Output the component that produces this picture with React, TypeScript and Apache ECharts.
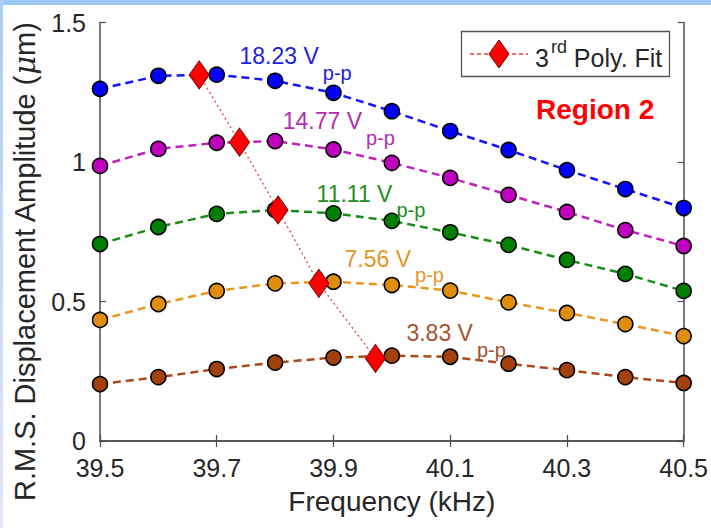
import React, { useEffect, useRef } from "react";
import * as echarts from "echarts";

// Drive frequency (kHz)
const freq = [39.5, 39.6, 39.7, 39.8, 39.9, 40.0, 40.1, 40.2, 40.3, 40.4, 40.5];

// RMS displacement amplitude (um) for each drive voltage
const amp1823 = [1.262, 1.309, 1.313, 1.291, 1.248, 1.182, 1.111, 1.043, 0.971, 0.903, 0.835];
const amp1477 = [0.986, 1.047, 1.069, 1.075, 1.045, 0.997, 0.943, 0.882, 0.821, 0.756, 0.699];
const amp1111 = [0.706, 0.767, 0.814, 0.828, 0.816, 0.789, 0.748, 0.703, 0.649, 0.599, 0.538];
const amp756 = [0.434, 0.491, 0.538, 0.565, 0.571, 0.559, 0.539, 0.497, 0.459, 0.419, 0.376];
const amp383 = [0.204, 0.229, 0.258, 0.281, 0.299, 0.306, 0.302, 0.277, 0.254, 0.229, 0.208];

// Peaks of the 3rd-order polynomial fits
const fitFreq = [39.67, 39.739, 39.805, 39.875, 39.972];
const fitAmp = [1.312, 1.071, 0.828, 0.565, 0.296];

// Drive voltage labels and their anchor points (freq, amp) at the label's left/middle
const voltLabels = ["18.23 V", "14.77 V", "11.11 V", "7.56 V", "3.83 V"];
const labelFreq = [39.739, 39.813, 39.871, 39.919, 40.025];
const labelAmp = [1.384, 1.151, 0.892, 0.659, 0.391];

const xTicks = [39.5, 39.7, 39.9, 40.1, 40.3, 40.5];

const markerColors = ["#0000ff", "#bf00bf", "#008000", "#e08c0c", "#a3410c"];
const lineColors = ["#1414ff", "#c020c0", "#1a8c1a", "#e8961e", "#a84a1a"];
const labelColors = ["#2020e0", "#b22db2", "#238c23", "#e59628", "#a5522e"];

const FONT = "'Liberation Sans', Arial, Helvetica, sans-serif";
const AXIS = "#4d4d4d";

export default function App() {
  const ref = useRef<HTMLDivElement>(null);

  useEffect(() => {
    if (!ref.current) return;
    const chart = echarts.init(ref.current, null, { renderer: "svg" });

    const sets = [amp1823, amp1477, amp1111, amp756, amp383];
    const dataSeries = sets.map((a, i) => ({
      type: "line",
      name: voltLabels[i],
      data: freq.map((f, k) => [f, a[k]]),
      symbol: "circle",
      symbolSize: 15,
      itemStyle: { color: markerColors[i], borderColor: "#000", borderWidth: 1.6 },
      lineStyle: { color: lineColors[i], width: 2.5, type: [8, 5] },
      z: 3,
    }));

    const hiddenAxis = {
      show: true,
      axisLabel: { show: false },
      splitLine: { show: false },
      axisLine: { show: true, lineStyle: { color: AXIS, width: 1.5 } },
    };

    chart.setOption({
      animation: false,
      backgroundColor: "#ffffff",
      grid: { left: 100, right: 26, top: 22.5, bottom: 87, containLabel: false },
      xAxis: [
        {
          type: "value",
          min: 39.5,
          max: 40.5,
          position: "bottom",
          axisLine: { show: true, onZero: false, lineStyle: { color: AXIS, width: 1.5 } },
          axisTick: { show: true, inside: true, length: 6, customValues: xTicks, lineStyle: { color: AXIS, width: 1.2 } },
          axisLabel: {
            customValues: xTicks,
            color: "#262626",
            fontSize: 25,
            fontFamily: FONT,
            margin: 14,
          },
          splitLine: { show: false },
          name: "Frequency (kHz)",
          nameLocation: "middle",
          nameGap: 46,
          nameTextStyle: { color: "#262626", fontSize: 28, fontFamily: FONT },
        },
        {
          ...hiddenAxis,
          type: "value",
          min: 39.5,
          max: 40.5,
          position: "top",
          axisTick: { show: true, inside: true, length: 6, customValues: xTicks, lineStyle: { color: AXIS, width: 1.2 } },
        },
      ],
      yAxis: [
        {
          type: "value",
          min: 0,
          max: 1.5,
          interval: 0.5,
          position: "left",
          axisLine: { show: true, onZero: false, lineStyle: { color: AXIS, width: 1.5 } },
          axisTick: { show: true, inside: true, length: 6, lineStyle: { color: AXIS, width: 1.2 } },
          axisLabel: { color: "#262626", fontSize: 25, fontFamily: FONT, margin: 14 },
          splitLine: { show: false },
        },
        {
          ...hiddenAxis,
          type: "value",
          min: 0,
          max: 1.5,
          interval: 0.5,
          position: "right",
          axisTick: { show: true, inside: true, length: 6, lineStyle: { color: AXIS, width: 1.2 } },
        },
      ],
      series: [
        ...dataSeries,
        {
          type: "line",
          name: "3rd Poly. Fit",
          data: fitFreq.map((f, k) => [f, fitAmp[k]]),
          symbol: "diamond",
          symbolSize: [20, 28],
          itemStyle: { color: "#ff0000", borderColor: "#7a0000", borderWidth: 1 },
          lineStyle: { color: "#f03c3c", width: 1.3, type: [2, 3] },
          z: 4,
        },
      ],
    });

    // Voltage annotations placed in data coordinates, with a p-p subscript
    const labelGraphics = voltLabels.map((t, i) => {
      const p = chart.convertToPixel({ gridIndex: 0 }, [labelFreq[i], labelAmp[i]]) as number[];
      return {
        type: "text",
        x: p[0],
        y: p[1] - 10,
        z: 10,
        style: {
          text: `{v|${t}}{s|p-p}`,
          textVerticalAlign: "top",
          textAlign: "left",
          fontFamily: FONT,
          rich: {
            v: { fontSize: 23, lineHeight: 25, verticalAlign: "top", fill: labelColors[i], fontFamily: FONT },
            s: {
              fontSize: 20,
              lineHeight: 21,
              verticalAlign: "top",
              padding: [18, 0, 0, 4],
              fill: labelColors[i],
              fontFamily: FONT,
            },
          },
        },
      };
    });

    chart.setOption({
      graphic: [
        { type: "rect", shape: { x: 0, y: 0, width: 711, height: 5 }, style: { fill: "#9cc9f6" }, z: 20 },
        {
          type: "rect",
          shape: { x: 0, y: 0, width: 3, height: 528 },
          style: {
            fill: new echarts.graphic.LinearGradient(0, 0, 0, 1, [
              { offset: 0, color: "#a9cef6" },
              { offset: 1, color: "#e4e5fa" },
            ]),
          },
          z: 20,
        },
        // Y-axis title
        {
          type: "text",
          x: 25,
          y: 262,
          rotation: Math.PI / 2,
          style: {
            text: "{t|R.M.S. Displacement Amplitude (}{i|μ}{t|m)}",
            textAlign: "center",
            textVerticalAlign: "middle",
            rich: {
              t: { fontSize: 29, fill: "#262626", fontFamily: FONT },
              i: { fontSize: 29, fill: "#262626", fontFamily: "'DejaVu Serif', serif", fontStyle: "italic" },
            },
          },
        },
        // Legend box
        {
          type: "rect",
          shape: { x: 461.5, y: 31.5, width: 208, height: 45 },
          style: { fill: "#ffffff", stroke: "#555555", lineWidth: 1.3 },
          z: 10,
        },
        {
          type: "line",
          shape: { x1: 470, y1: 54, x2: 528, y2: 54 },
          style: { stroke: "#f03c3c", lineWidth: 1.3, lineDash: [4, 3] },
          z: 11,
        },
        {
          type: "polygon",
          shape: { points: [[499, 40], [509, 54], [499, 68], [489, 54]] },
          style: { fill: "#ff0000", stroke: "#7a0000", lineWidth: 1 },
          z: 12,
        },
        {
          type: "text",
          x: 535,
          y: 38,
          z: 12,
          style: {
            text: "{n|3}{sup|rd}{n| Poly. Fit}",
            textVerticalAlign: "top",
            rich: {
              n: { fontSize: 25, lineHeight: 32, verticalAlign: "bottom", fill: "#262626", fontFamily: FONT },
              sup: { fontSize: 18, lineHeight: 18, verticalAlign: "top", fill: "#262626", fontFamily: FONT, padding: [0, 0, 0, 2] },
            },
          },
        },
        // Region tag
        {
          type: "text",
          x: 536,
          y: 109,
          z: 12,
          style: {
            text: "Region 2",
            fontSize: 28,
            fontWeight: "bold",
            fontFamily: FONT,
            fill: "#ff0000",
            textVerticalAlign: "middle",
          },
        },
        ...labelGraphics,
      ],
    });

    return () => chart.dispose();
  }, []);

  return (
    <div
      ref={ref}
      style={{ position: "absolute", left: 0, top: 0, width: 711, height: 528, background: "#fff" }}
    />
  );
}
